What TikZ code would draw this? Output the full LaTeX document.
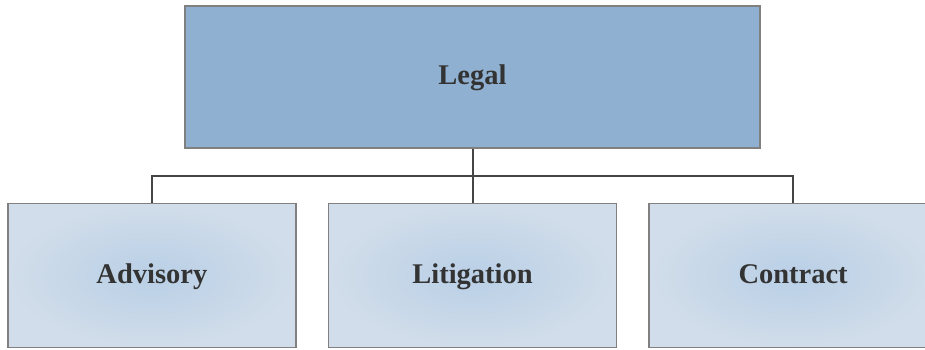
\documentclass[tikz,border=0pt]{standalone}
\usepackage{fontspec}
\setmainfont{Liberation Serif}
\usetikzlibrary{positioning, calc}

\definecolor{headfill}{HTML}{8FB0D0}
\definecolor{unitin}{HTML}{B9CFE6}
\definecolor{unitout}{HTML}{D1DDEA}
\definecolor{boxline}{HTML}{808080}
\definecolor{busline}{HTML}{454545}
\definecolor{labeltext}{HTML}{333333}

\begin{document}
\begin{tikzpicture}[
		head/.style={draw=boxline, line width=0.8pt, rectangle, fill=headfill,
			minimum width=287.5pt, minimum height=71pt,
			text height=0.9em, text depth=0.16em,
			font=\fontsize{14.25pt}{17pt}\selectfont\bfseries, text=labeltext},
		unit/.style={draw=boxline, line width=0.8pt, rectangle,
			inner color=unitin, outer color=unitout,
			minimum width=144pt, minimum height=72pt,
			text height=0.9em, text depth=0.16em,
			font=\fontsize{14.25pt}{17pt}\selectfont\bfseries, text=labeltext},
		bus/.style={draw=busline, line width=1pt},
	]
	\useasboundingbox (0,0) rectangle (462.5pt,-174.5pt);

	% -- all boxes --

	\node [head] (legal) at (236.25pt, -38.5pt) {Legal};
	\node [unit,below=27pt of legal] (litigation) {Litigation};
	\node [unit,left=15.5pt of litigation] (advisory) {Advisory};
	\node [unit,right=15.5pt of litigation] (contract) {Contract};

	% -- connectors --

	\coordinate (split) at ($(legal.south)!0.5!(litigation.north)$);
	\draw[bus] (legal.south) -- (litigation.north);
	\draw[bus] (advisory.north) |- (split) -| (contract.north);
\end{tikzpicture}
\end{document}
